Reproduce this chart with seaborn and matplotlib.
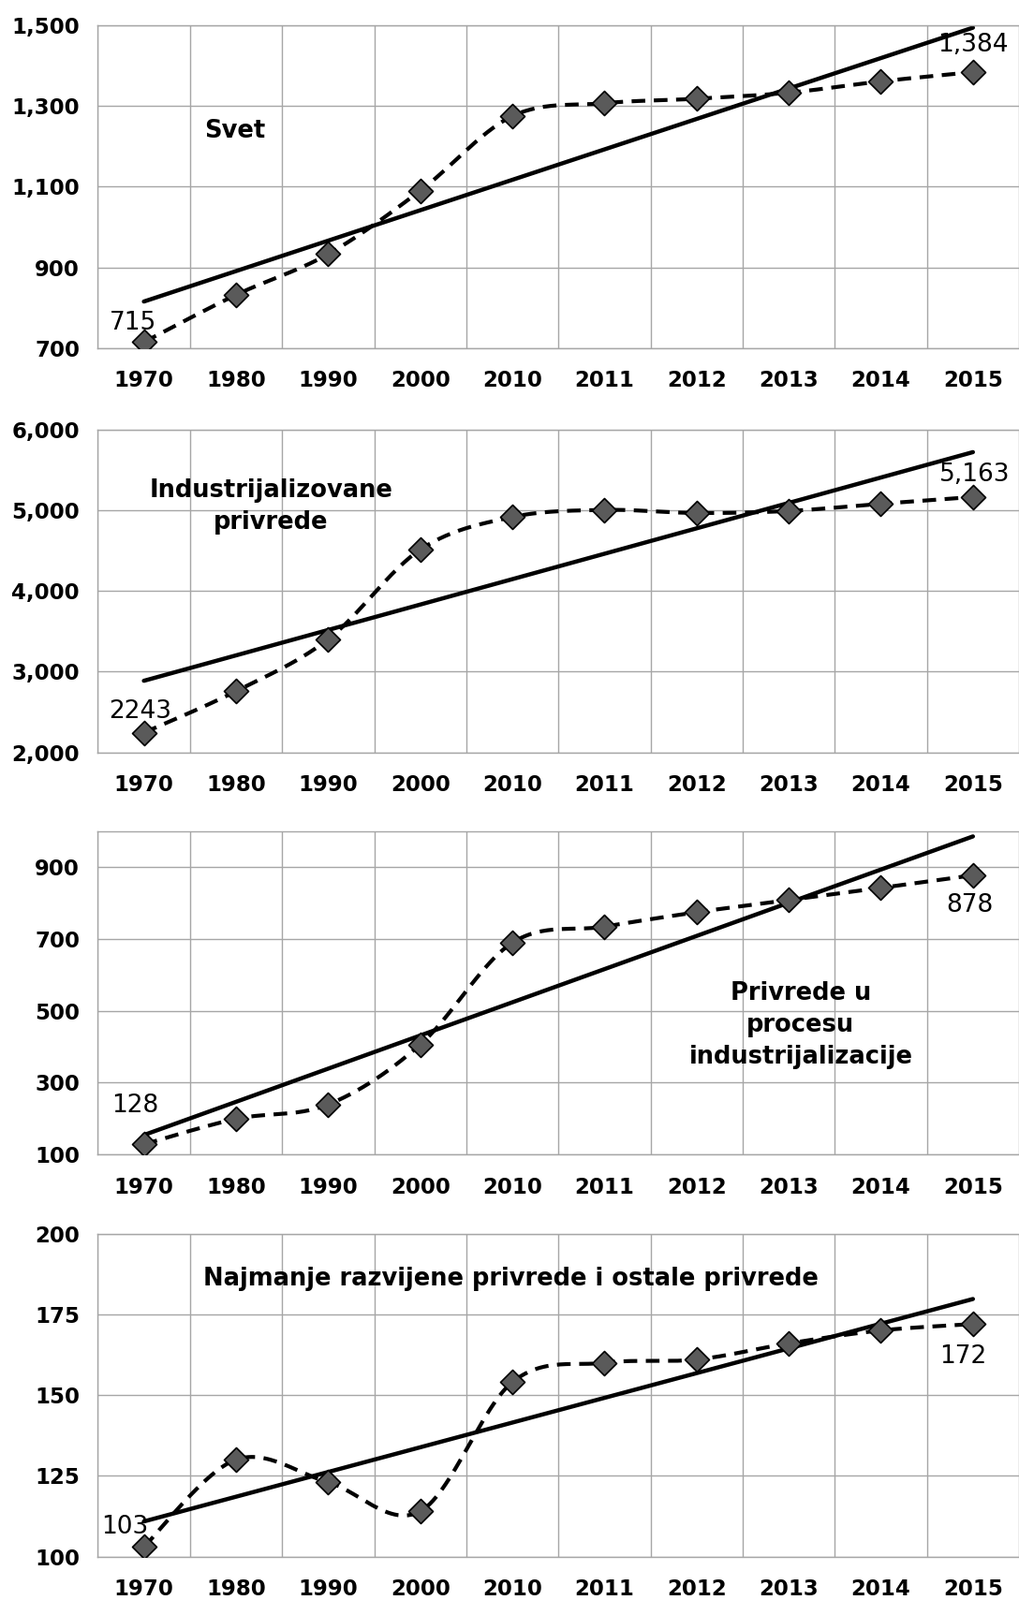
import numpy as np
import pandas as pd
import matplotlib
matplotlib.use("Agg")
import matplotlib.pyplot as plt
import seaborn as sns
from matplotlib.ticker import FixedLocator, FuncFormatter

sns.set_style("white")
plt.rcParams['font.family'] = ['DejaVu Sans']
plt.rcParams['text.color'] = 'black'
plt.rcParams['xtick.labelcolor'] = 'black'
plt.rcParams['ytick.labelcolor'] = 'black'

# data
years = ["1970", "1980", "1990", "2000", "2010", "2011", "2012", "2013", "2014", "2015"]
svet = [715, 832, 933, 1090, 1275, 1307, 1318, 1333, 1361, 1384]
industrijalizovane = [2243, 2757, 3400, 4511, 4915, 5003, 4965, 4990, 5079, 5163]
u_procesu = [128, 199, 239, 406, 690, 735, 775, 809, 843, 878]
najmanje = [103, 130, 123, 114, 154, 160, 161, 166, 170, 172]

series = [svet, industrijalizovane, u_procesu, najmanje]
titles = ["Svet", "Industrijalizovane\nprivrede",
          "Privrede u\nprocesu\nindustrijalizacije",
          "Najmanje razvijene privrede i ostale privrede"]
first_labels = ["715", "2243", "128", "103"]
last_labels = ["1,384", "5,163", "878", "172"]
y_min = [700, 2000, 100, 100]
y_max = [1500, 6000, 1000, 200]
y_step = [200, 1000, 200, 25]

# annotation placement (category index, value)
title_pos = [(0.99, 1239), (1.38, 5041), (7.13, 460), (3.98, 186)]
first_pos = [(-0.12, 763), (-0.04, 2505), (-0.1, 236), (-0.21, 109)]
last_pos = [(9.0, 1452), (9.02, 5440), (8.97, 795), (8.89, 161.8)]

bottoms = [0.7824, 0.5298, 0.2785, 0.0272]
grid_col = '#a6a6a6'


def smooth(vals, n=30):
    # Excel-style smoothed line (bezier through the points)
    pts = np.column_stack([np.arange(len(vals), dtype=float), np.asarray(vals, float)])
    ext = np.vstack([pts[0], pts, pts[-1]])
    out = []
    t = np.linspace(0, 1, n)[:, None]
    for i in range(len(pts) - 1):
        p0, p1, p2, p3 = ext[i], ext[i + 1], ext[i + 2], ext[i + 3]
        c1 = p1 + (p2 - p0) / 6
        c2 = p2 - (p3 - p1) / 6
        seg = (1 - t) ** 3 * p1 + 3 * (1 - t) ** 2 * t * c1 + 3 * (1 - t) * t ** 2 * c2 + t ** 3 * p2
        out.append(seg if i == 0 else seg[1:])
    return np.vstack(out)


fig = plt.figure(figsize=(10.88, 17.09), dpi=100)

for k, vals in enumerate(series):
    ax = fig.add_axes([0.096, bottoms[k], 0.904, 0.2018])
    xs = np.arange(len(years))
    df = pd.DataFrame({'x': xs, 'y': vals})
    sm = smooth(vals)
    sm_df = pd.DataFrame({'x': sm[:, 0], 'y': sm[:, 1]})

    # trend line (linear fit)
    sns.regplot(data=df, x='x', y='y', scatter=False, ci=None, truncate=True,
                line_kws=dict(color='black', lw=3.2, solid_capstyle='round'), ax=ax)
    # smoothed dashed line
    sns.lineplot(data=sm_df, x='x', y='y', sort=False, color='black', lw=3,
                 ax=ax, zorder=3)
    ax.lines[-1].set_dashes([3.5, 2.2])
    sns.scatterplot(data=df, x='x', y='y', marker='D', s=175, color='#5a5a5a',
                    edgecolor='black', linewidth=1.2, ax=ax, zorder=4)

    ax.set_xlim(-0.5, 9.5)
    ax.set_ylim(y_min[k], y_max[k])
    ax.set_xlabel('')
    ax.set_ylabel('')

    ax.xaxis.set_major_locator(FixedLocator(xs))
    ax.set_xticklabels(years, fontsize=16.5, fontweight='bold')
    ax.xaxis.set_minor_locator(FixedLocator(np.arange(-0.5, 10, 1)))
    ax.tick_params(axis='x', which='major', length=0, pad=17)
    ax.tick_params(axis='x', which='minor', length=6, width=1, color=grid_col, direction='out')
    ax.set_yticks(np.arange(y_min[k], y_max[k] + 1, y_step[k]))
    ax.yaxis.set_major_formatter(FuncFormatter(lambda v, p: f"{v:,.0f}"))
    ax.tick_params(axis='y', length=6, width=1, color=grid_col, pad=8, labelsize=16.5)
    for lab in ax.get_yticklabels():
        lab.set_fontweight('bold')

    ax.grid(True, axis='x', which='minor', color=grid_col, lw=1)
    ax.grid(True, axis='y', which='major', color=grid_col, lw=1)
    for side in ['left', 'bottom', 'top']:
        ax.spines[side].set_color(grid_col)
        ax.spines[side].set_linewidth(1)
    ax.spines['right'].set_visible(False)

    ax.text(*title_pos[k], titles[k], ha='center', va='center', fontsize=18.5,
            fontweight='bold', linespacing=1.4)
    ax.text(*first_pos[k], first_labels[k], ha='center', va='center', fontsize=19)
    ax.text(*last_pos[k], last_labels[k], ha='center', va='center', fontsize=19)

fig.savefig('out.png', dpi=100)
